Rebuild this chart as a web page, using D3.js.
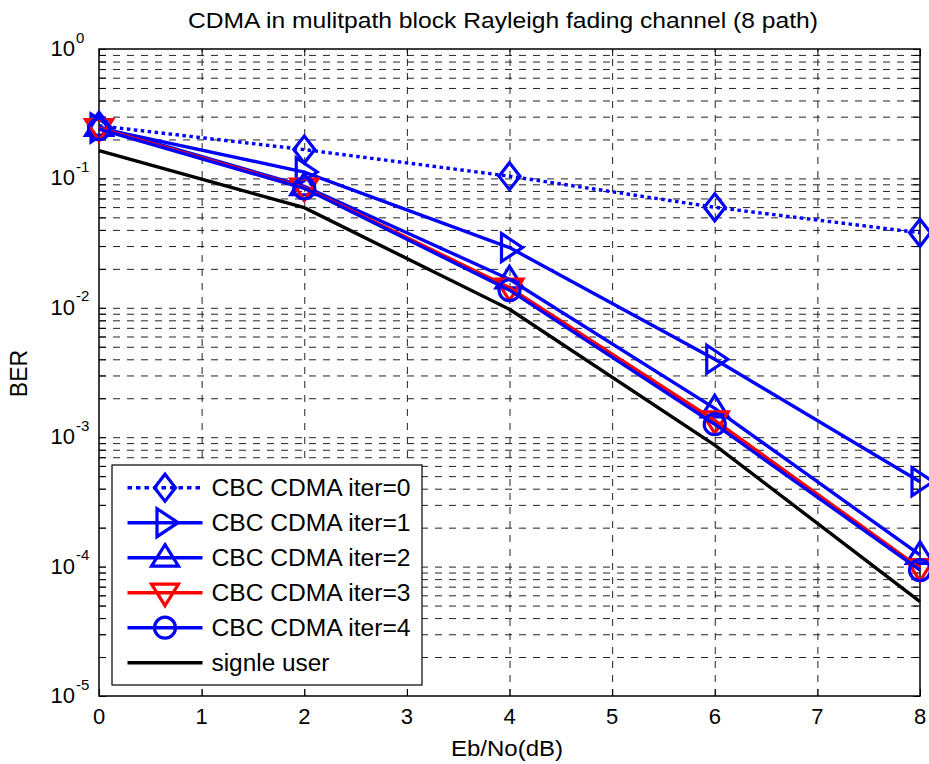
<!DOCTYPE html>
<html>
<head>
<meta charset="utf-8">
<script src="https://cdn.jsdelivr.net/npm/d3@7"></script>
<style>
  body { margin: 0; background: #fff; }
  svg { display: block; }
  text { font-family: Arial, "Liberation Sans", Helvetica, sans-serif; fill: #000; }
</style>
</head>
<body>
<script>
// Eb/No points and BER values
var snr = [0, 2, 4, 6, 8];
var berIter0 = [0.255, 0.167, 0.104, 0.0598, 0.038];
var berIter1 = [0.245, 0.112, 0.0292, 0.0040, 0.000453];
var berIter2 = [0.25, 0.087, 0.0166, 0.00167, 0.000123];
var berIter3 = [0.245, 0.085, 0.0143, 0.00135, 0.0000975];
var berIter4 = [0.24, 0.0838, 0.0137, 0.00126, 0.000094];
var berSingle = [0.164, 0.0594, 0.00973, 0.00087, 0.0000536];

var seriesNames = ['CBC CDMA iter=0', 'CBC CDMA iter=1', 'CBC CDMA iter=2',
                   'CBC CDMA iter=3', 'CBC CDMA iter=4', 'signle user'];
var xTicks = [0, 1, 2, 3, 4, 5, 6, 7, 8];
var yDecades = [-5, -4, -3, -2, -1, 0];

var width = 929, height = 764;
var pLeft = 99, pRight = 920, pTop = 49, pBottom = 696;

var svg = d3.select('body').append('svg')
    .attr('width', width)
    .attr('height', height);

var x = d3.scaleLinear().domain([0, 8]).range([pLeft, pRight]);
var y = d3.scaleLog().domain([1e-5, 1]).range([pBottom, pTop]);

// all major + minor log ticks
var yTicks = [];
yDecades.forEach(function(e) {
    for (var m = 1; m <= 9; m++) {
        var v = m * Math.pow(10, e);
        if (v <= 1) yTicks.push(v);
    }
});

// grid
var grid = svg.append('g').attr('class', 'grid');
grid.append('g')
    .attr('transform', 'translate(0,' + pBottom + ')')
    .call(d3.axisBottom(x).tickValues(xTicks.slice(1, -1)).tickSize(-(pBottom - pTop)).tickFormat(''));
grid.append('g')
    .attr('transform', 'translate(' + pLeft + ',0)')
    .call(d3.axisLeft(y).tickValues(yTicks.filter(function(v) { return v > 1e-5 && v < 1; }))
        .tickSize(-(pRight - pLeft)).tickFormat(''));
grid.selectAll('.domain').remove();
grid.selectAll('.tick line')
    .attr('stroke', '#222')
    .attr('stroke-width', 1)
    .attr('stroke-dasharray', '7,7');

// inside tick marks on all four sides
var tickLen = 7;
var axes = svg.append('g').attr('class', 'axes');
axes.append('g').attr('transform', 'translate(0,' + pBottom + ')')
    .call(d3.axisBottom(x).tickValues(xTicks).tickSize(-tickLen).tickFormat(''));
axes.append('g').attr('transform', 'translate(0,' + pTop + ')')
    .call(d3.axisTop(x).tickValues(xTicks).tickSize(-tickLen).tickFormat(''));
axes.append('g').attr('transform', 'translate(' + pLeft + ',0)')
    .call(d3.axisLeft(y).tickValues(yTicks).tickSize(-tickLen).tickFormat(''));
axes.append('g').attr('transform', 'translate(' + pRight + ',0)')
    .call(d3.axisRight(y).tickValues(yTicks).tickSize(-tickLen).tickFormat(''));
axes.selectAll('.domain').remove();
axes.selectAll('.tick line').attr('stroke', '#000').attr('stroke-width', 1);

axes.append('rect')
    .attr('x', pLeft).attr('y', pTop)
    .attr('width', pRight - pLeft).attr('height', pBottom - pTop)
    .attr('fill', 'none')
    .attr('stroke', '#000')
    .attr('stroke-width', 1.5);

// x tick labels
svg.append('g').selectAll('text')
    .data(xTicks)
    .enter().append('text')
        .attr('x', function(d) { return x(d); })
        .attr('y', pBottom + 28)
        .attr('text-anchor', 'middle')
        .style('font-size', '22px')
        .text(function(d) { return d; });

// y tick labels 10^e
var yLab = svg.append('g').selectAll('g')
    .data(yDecades)
    .enter().append('g');
yLab.append('text')
    .attr('x', 75)
    .attr('y', function(d) { return y(Math.pow(10, d)) + 7; })
    .attr('text-anchor', 'end')
    .style('font-size', '22px')
    .text('10');
yLab.append('text')
    .attr('x', 76)
    .attr('y', function(d) { return y(Math.pow(10, d)) - 6.5; })
    .style('font-size', '15px')
    .text(function(d) { return d == 0 ? '0' : String(d); });

// title and axis labels
svg.append('text')
    .attr('x', 503).attr('y', 28)
    .attr('text-anchor', 'middle')
    .attr('textLength', 630)
    .attr('lengthAdjust', 'spacingAndGlyphs')
    .style('font-size', '22px')
    .text('CDMA in mulitpath block Rayleigh fading channel (8 path)');

svg.append('text')
    .attr('x', 507).attr('y', 756)
    .attr('text-anchor', 'middle')
    .attr('textLength', 112)
    .attr('lengthAdjust', 'spacingAndGlyphs')
    .style('font-size', '22px')
    .text('Eb/No(dB)');

svg.append('text')
    .attr('transform', 'translate(27,' + ((pTop + pBottom) / 2 + 1) + ') rotate(-90)')
    .attr('text-anchor', 'middle')
    .style('font-size', '23px')
    .text('BER');

// markers
var markerPaths = {
    diamond: 'M0,-13.5L10.5,0L0,13.5L-10.5,0Z',
    right: 'M13,0L-8,-14L-8,14Z',
    up: 'M0,-13L13.5,8.5L-13.5,8.5Z',
    down: 'M0,13L13.5,-8.5L-13.5,-8.5Z',
    circle: 'M10.5,0A10.5,10.5 0 1,1 -10.5,0A10.5,10.5 0 1,1 10.5,0Z'
};

var series = [
    { name: seriesNames[0], values: berIter0, color: '#0000ff', dash: '3.5,3.5', marker: 'diamond' },
    { name: seriesNames[1], values: berIter1, color: '#0000ff', dash: null, marker: 'right' },
    { name: seriesNames[2], values: berIter2, color: '#0000ff', dash: null, marker: 'up' },
    { name: seriesNames[3], values: berIter3, color: '#ff0000', dash: null, marker: 'down' },
    { name: seriesNames[4], values: berIter4, color: '#0000ff', dash: null, marker: 'circle' },
    { name: seriesNames[5], values: berSingle, color: '#000000', dash: null, marker: null }
];

var line = d3.line()
    .x(function(d) { return x(d[0]); })
    .y(function(d) { return y(d[1]); });

var plot = svg.append('g').attr('class', 'plot');

series.forEach(function(s) {
    var pts = snr.map(function(v, i) { return [v, s.values[i]]; });
    var g = plot.append('g');
    g.append('path')
        .datum(pts)
        .attr('d', line)
        .attr('fill', 'none')
        .attr('stroke', s.color)
        .attr('stroke-width', 3.4)
        .attr('stroke-dasharray', s.dash);
    if (s.marker) {
        g.selectAll('.mk')
            .data(pts)
            .enter().append('path')
                .attr('class', 'mk')
                .attr('transform', function(d) { return 'translate(' + x(d[0]) + ',' + y(d[1]) + ')'; })
                .attr('d', markerPaths[s.marker])
                .attr('fill', 'none')
                .attr('stroke', s.color)
                .attr('stroke-width', 3.2);
    }
});

// legend
var legend = svg.append('g').attr('class', 'legend');
legend.append('rect')
    .attr('x', 112).attr('y', 465)
    .attr('width', 310).attr('height', 220)
    .attr('fill', '#fff')
    .attr('stroke', '#000')
    .attr('stroke-width', 1.2);

var item = legend.selectAll('.item')
    .data(series)
    .enter().append('g')
        .attr('class', 'item')
        .attr('transform', function(d, i) { return 'translate(0,' + (487.7 + i * 35) + ')'; });

item.append('line')
    .attr('x1', 127.5).attr('x2', 202.5)
    .attr('y1', 0).attr('y2', 0)
    .attr('stroke', function(d) { return d.color; })
    .attr('stroke-width', 3.4)
    .attr('stroke-dasharray', function(d) { return d.dash ? '4.5,4' : null; });

item.filter(function(d) { return d.marker; })
    .append('path')
        .attr('transform', 'translate(165,0)')
        .attr('d', function(d) { return markerPaths[d.marker]; })
        .attr('fill', 'none')
        .attr('stroke', function(d) { return d.color; })
        .attr('stroke-width', 3.2);

item.append('text')
    .attr('x', 211.5)
    .attr('y', 8.5)
    .attr('textLength', function(d, i) { return i < 5 ? 199 : 118; })
    .attr('lengthAdjust', 'spacingAndGlyphs')
    .style('font-size', '23px')
    .text(function(d) { return d.name; });
</script>
</body>
</html>
